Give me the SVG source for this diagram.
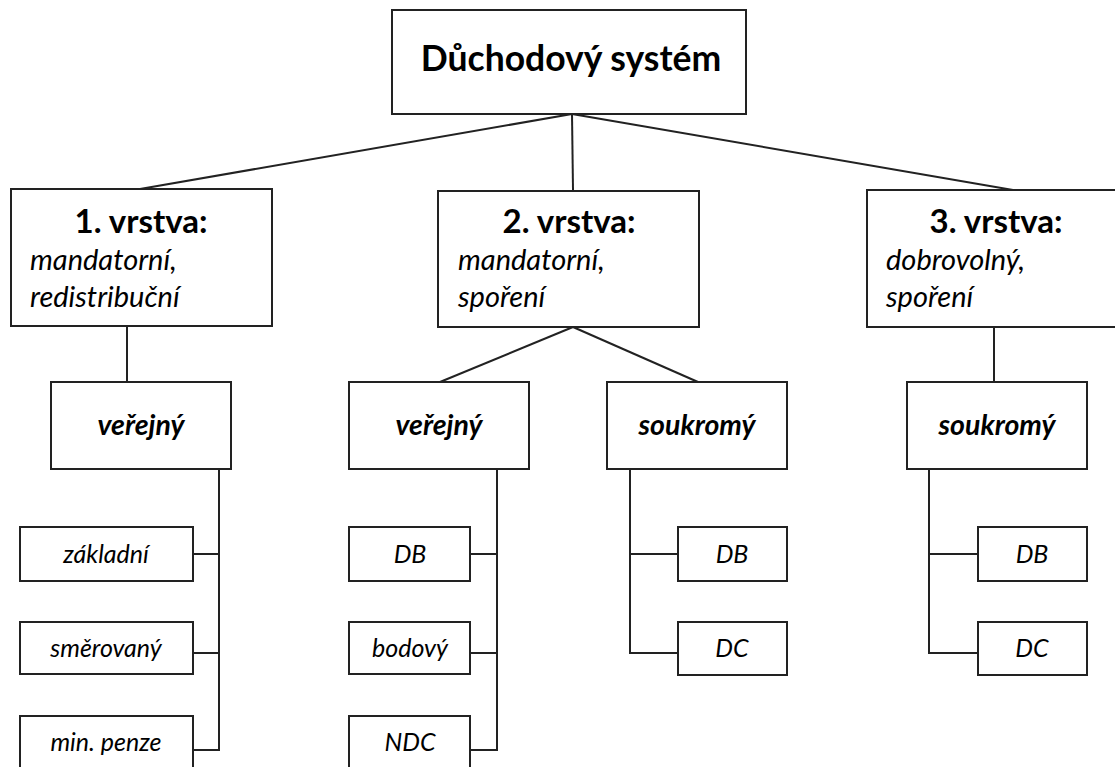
<svg xmlns="http://www.w3.org/2000/svg" width="1115" height="767" viewBox="0 0 1115 767">
<style>
.box{fill:#fff;stroke:#222;stroke-width:2}
.c{fill:none;stroke:#222;stroke-width:2}
text{font-family:Lato,"Open Sans","Liberation Sans",sans-serif;fill:#000}
.title{font-size:35.5px;font-weight:bold;text-anchor:middle}
.layer{font-size:33px;font-weight:bold;text-anchor:middle}
.desc{font-size:29px;font-style:italic}
.sub{font-size:28.5px;font-weight:bold;font-style:italic;text-anchor:middle}
.leaf{font-size:25px;font-style:italic;text-anchor:middle}
</style>
<rect width="1115" height="767" fill="#fff"/>
<g id="connectors">
<line class="c" x1="572" y1="114" x2="140" y2="189"/>
<line class="c" x1="572" y1="114" x2="573" y2="190"/>
<line class="c" x1="572" y1="114" x2="1013" y2="190"/>
<line class="c" x1="127" y1="326" x2="127" y2="382"/>
<line class="c" x1="573" y1="327" x2="440" y2="382"/>
<line class="c" x1="573" y1="327" x2="698" y2="382"/>
<line class="c" x1="994" y1="327" x2="994" y2="382"/>
<polyline class="c" points="219,469 219,750 193,750"/>
<line class="c" x1="193" y1="554" x2="219" y2="554"/>
<line class="c" x1="193" y1="653" x2="219" y2="653"/>
<polyline class="c" points="497,469 497,750 470,750"/>
<line class="c" x1="470" y1="554" x2="497" y2="554"/>
<line class="c" x1="470" y1="653" x2="497" y2="653"/>
<polyline class="c" points="630,469 630,653 678,653"/>
<line class="c" x1="630" y1="554" x2="678" y2="554"/>
<polyline class="c" points="929,469 929,653 978,653"/>
<line class="c" x1="929" y1="554" x2="978" y2="554"/>
</g>
<g id="root"><rect class="box" x="392" y="10" width="354" height="104"/><text class="title" x="571" y="71">Důchodový systém</text></g>
<g id="layer1"><rect class="box" x="11" y="189" width="261" height="137"/><text class="layer" x="141" y="233">1. vrstva:</text><text class="desc" x="30" y="270">mandatorní,</text><text class="desc" x="30" y="307">redistribuční</text></g>
<g id="layer2"><rect class="box" x="438" y="191" width="261" height="136"/><text class="layer" x="569" y="233">2. vrstva:</text><text class="desc" x="458" y="270">mandatorní,</text><text class="desc" x="458" y="307">spoření</text></g>
<g id="layer3"><rect class="box" x="867" y="190" width="262" height="137"/><text class="layer" x="996" y="233">3. vrstva:</text><text class="desc" x="886" y="270">dobrovolný,</text><text class="desc" x="886" y="307">spoření</text></g>
<g id="l1-verejny"><rect class="box" x="51" y="382" width="180" height="87"/><text class="sub" x="141" y="435">veřejný</text></g>
<g id="l2-verejny"><rect class="box" x="349" y="382" width="180" height="87"/><text class="sub" x="439" y="435">veřejný</text></g>
<g id="l2-soukromy"><rect class="box" x="607" y="382" width="180" height="87"/><text class="sub" x="697" y="435">soukromý</text></g>
<g id="l3-soukromy"><rect class="box" x="907" y="382" width="180" height="87"/><text class="sub" x="997" y="435">soukromý</text></g>
<g id="l1-zakladni"><rect class="box" x="20" y="527" width="173" height="54"/><text class="leaf" x="106" y="563">základní</text></g>
<g id="l1-smerovany"><rect class="box" x="20" y="622" width="173" height="52"/><text class="leaf" x="106" y="657">směrovaný</text></g>
<g id="l1-minpenze"><rect class="box" x="20" y="716" width="173" height="60"/><text class="leaf" x="106" y="751">min. penze</text></g>
<g id="l2v-db"><rect class="box" x="349" y="527" width="121" height="54"/><text class="leaf" x="410" y="563">DB</text></g>
<g id="l2v-bodovy"><rect class="box" x="349" y="622" width="121" height="52"/><text class="leaf" x="410" y="657">bodový</text></g>
<g id="l2v-ndc"><rect class="box" x="349" y="716" width="121" height="60"/><text class="leaf" x="410" y="751">NDC</text></g>
<g id="l2s-db"><rect class="box" x="678" y="527" width="109" height="54"/><text class="leaf" x="732" y="563">DB</text></g>
<g id="l2s-dc"><rect class="box" x="678" y="622" width="109" height="53"/><text class="leaf" x="732" y="657">DC</text></g>
<g id="l3s-db"><rect class="box" x="978" y="527" width="109" height="54"/><text class="leaf" x="1032" y="563">DB</text></g>
<g id="l3s-dc"><rect class="box" x="978" y="622" width="109" height="53"/><text class="leaf" x="1032" y="657">DC</text></g>
</svg>
